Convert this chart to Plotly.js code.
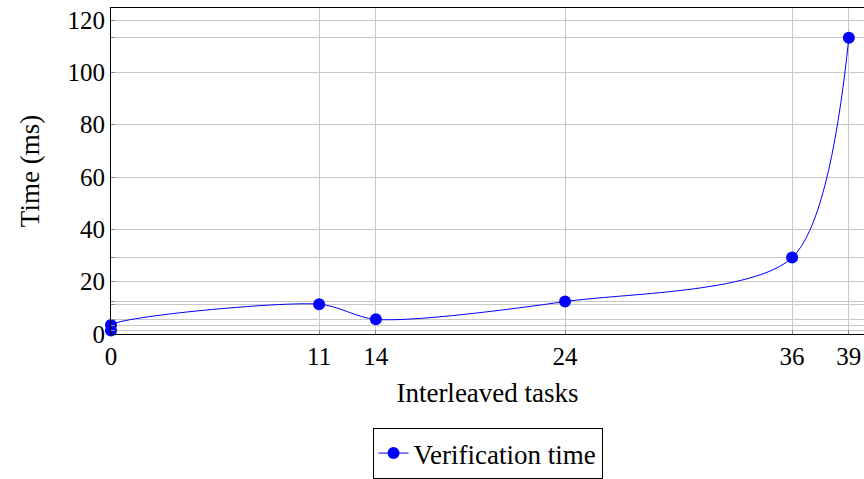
<!DOCTYPE html>
<html>
<head>
<meta charset="utf-8">
<script src="https://cdn.plot.ly/plotly-3.0.1.min.js"></script>
<style>html,body{margin:0;padding:0;background:#fff;overflow:hidden;}</style>
</head>
<body>
<div id="chart" style="width:864px;height:479px;"></div>
<script>
const tasks = [0, 0, 11, 14, 24, 36, 39];
const timesMs = [1.3, 3.4, 11.4, 5.6, 12.4, 29.2, 113.2];
const xTickVals = [0, 11, 14, 24, 36, 39];
const yTickVals = [0, 20, 40, 60, 80, 100, 120];
const seriesName = 'Verification time';

const font = "'Liberation Serif', 'DejaVu Serif', serif";
const yAll = yTickVals.concat(timesMs);
const yText = yTickVals.map(String).concat(timesMs.map(() => ''));

const trace = {
  x: tasks, y: timesMs, name: seriesName,
  type: 'scatter', mode: 'lines+markers',
  line: {color: '#0000ff', width: 1, shape: 'spline', smoothing: 0.8},
  marker: {color: '#0000ff', size: 12},
  cliponaxis: false
};

const layout = {
  width: 864, height: 479,
  margin: {l: 111, r: 0, t: 8, b: 144},
  paper_bgcolor: '#fff', plot_bgcolor: '#fff',
  font: {family: font, size: 25, color: '#000'},
  showlegend: true,
  legend: {x: 0.5, xanchor: 'center', y: -0.29, yanchor: 'top',
           bordercolor: '#000', borderwidth: 1, font: {family: font, size: 27}},
  xaxis: {
    range: [0, 39.8], tickvals: xTickVals, ticktext: xTickVals.map(String),
    showgrid: true, gridcolor: '#c8c8c8', gridwidth: 1,
    zeroline: false, showline: true, linecolor: '#000', linewidth: 1, mirror: true,
    ticks: 'inside', ticklen: 4, tickcolor: '#888',
    tickfont: {family: font, size: 25},
    title: {text: 'Interleaved tasks', font: {family: font, size: 27}, standoff: 14}
  },
  yaxis: {
    range: [0, 124.6], tickvals: yAll, ticktext: yText,
    showgrid: true, gridcolor: '#c8c8c8', gridwidth: 1,
    zeroline: false, showline: true, linecolor: '#000', linewidth: 1, mirror: false,
    ticks: 'inside', ticklen: 4, tickcolor: '#888',
    tickfont: {family: font, size: 25},
    title: {text: 'Time (ms)', font: {family: font, size: 27}, standoff: 20}
  }
};

Plotly.newPlot('chart', [trace], layout, {displayModeBar: false, staticPlot: true});
</script>
</body>
</html>
